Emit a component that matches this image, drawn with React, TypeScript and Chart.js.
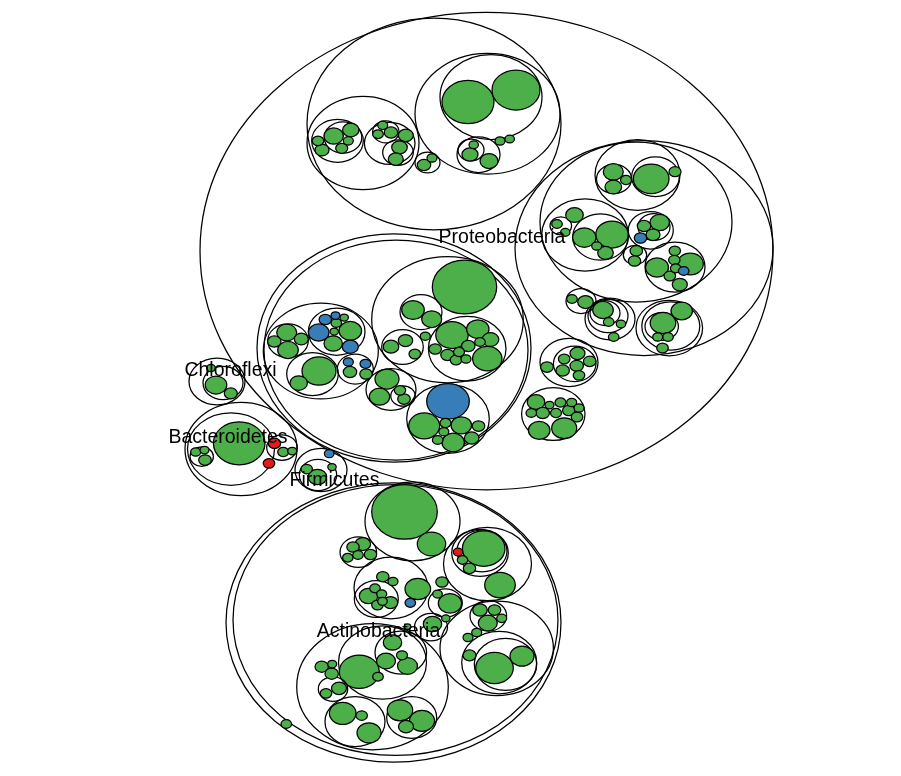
import { useEffect, useRef } from 'react';
import { Chart, registerables } from 'chart.js';

Chart.register(...registerables);

// [x, y, r, kind]  kind: n = group outline, g/b/r = leaf fill
// layout units: y is stretched (x 0..901, y 0..931.2) so circles come out as wide ellipses
type Circle = [number, number, number, string];

const PROTEO_TOP: Circle[] = [
  [486.5, 301.2, 286.5, 'n'],
  [434, 148.8, 127, 'n'],
  [363, 171.6, 56, 'n'],
  [337.5, 169, 25.8, 'n'], [343, 165, 18.8, 'n'],
  [333.7, 163.2, 9.7, 'g'], [350.8, 156, 8.2, 'g'], [348.3, 169, 5, 'g'], [341.7, 178, 6, 'g'],
  [318, 169, 5.8, 'g'], [322, 180, 7, 'g'],
  [389.7, 172, 25.3, 'n'], [385.8, 158.2, 13.2, 'n'],
  [382.7, 150.4, 5, 'g'], [378, 161, 5.3, 'g'], [391, 159, 6.7, 'g'], [405.8, 162.4, 7.5, 'g'],
  [398, 183, 15.3, 'n'], [399.5, 176.8, 7.8, 'g'], [395.8, 191, 7.5, 'g'],
  [427.5, 195, 12.5, 'n'], [424, 198, 6.7, 'g'], [432, 189.6, 5, 'g'],
  [487.5, 136.4, 72.5, 'n'], [491, 116.4, 51, 'n'],
  [468, 122.4, 26, 'g'], [516, 108, 24, 'g'],
  [478.5, 185.6, 21.5, 'n'], [471, 180, 13, 'n'],
  [473.7, 173.6, 4.7, 'g'], [470, 185.4, 8, 'g'], [489, 193.2, 9, 'g'],
  [500, 169.2, 5, 'g'], [509.7, 166.8, 4.7, 'g'],
];

const PROTEO_RIGHT: Circle[] = [
  [644, 297.6, 129, 'n'], [636, 266.4, 96, 'n'],
  [637.5, 210, 42.5, 'n'], [614, 214.8, 17.5, 'n'],
  [613.3, 206.2, 10, 'g'], [613.3, 224.4, 8.3, 'g'], [626, 216, 5.5, 'g'],
  [655.5, 212, 23.8, 'n'], [651.2, 214.6, 17.8, 'g'], [675, 206, 6, 'g'],
  [585, 282, 43.3, 'n'], [560.8, 271, 10.8, 'n'],
  [557, 268.8, 5.3, 'g'], [565.3, 278.8, 4.7, 'g'], [574.5, 258, 8.8, 'g'],
  [600.5, 284.4, 27.8, 'n'],
  [584.3, 285, 11.7, 'g'], [612, 281.4, 16.2, 'g'], [596.7, 295.2, 5, 'g'], [605.5, 303.4, 7.8, 'g'],
  [650.8, 276.4, 22.5, 'n'], [654, 272.4, 16, 'n'],
  [644, 271.2, 6.7, 'g'], [659.7, 267, 9.7, 'g'], [653, 281.6, 7, 'g'], [640.5, 285.6, 6.2, 'b'],
  [635, 306, 11.7, 'n'], [636.3, 301, 6.3, 'g'], [634.5, 313.2, 6.2, 'g'],
  [675, 320.4, 30, 'n'],
  [657, 321, 11.5, 'g'], [674.8, 301, 5.7, 'g'], [674.3, 312, 5.7, 'g'], [690.3, 316.8, 13, 'g'],
  [675.7, 322, 5.3, 'g'], [683.7, 325.2, 5.3, 'b'], [669.8, 331.2, 5.8, 'g'], [679.8, 341.4, 7.5, 'g'],
  [581, 361.2, 15, 'n'], [572, 358.8, 5.3, 'g'], [585.5, 362.4, 7.8, 'g'],
  [610, 382.8, 25, 'n'], [608, 379.2, 20, 'n'], [605, 375.6, 15, 'n'],
  [603, 372, 10.3, 'g'], [608.7, 386.4, 5.3, 'g'], [621, 388.8, 4.7, 'g'], [613.7, 404.4, 5.3, 'g'],
  [669.3, 393.6, 33.3, 'n'], [670.8, 391.2, 29, 'n'], [661.7, 391.8, 16.7, 'n'],
  [663, 387.6, 12.8, 'g'], [657.7, 404.4, 5, 'g'], [668, 404.4, 5.3, 'g'],
  [681.7, 373.2, 10.7, 'g'], [662.5, 417.6, 5.8, 'g'],
];

const PROTEO_MID: Circle[] = [
  [394, 417.6, 137, 'n'], [396, 420, 132, 'n'],
  [320.8, 421.2, 57.5, 'n'],
  [288, 409, 20.3, 'n'],
  [286.7, 399, 10, 'g'], [274.3, 409.8, 6.7, 'g'], [301.3, 406.8, 7, 'g'], [288, 420, 10.3, 'g'],
  [336.7, 398, 28.3, 'n'],
  [318.7, 399, 10.3, 'b'], [325.3, 383.4, 6.2, 'b'], [335.5, 378.6, 4.5, 'b'], [344.2, 381, 4.2, 'g'],
  [336.3, 387.6, 5.3, 'g'], [334.2, 397.8, 4.2, 'g'], [350.3, 397, 11.3, 'g'], [333.2, 412.2, 9.2, 'g'],
  [350.3, 416, 8, 'b'],
  [312.5, 448.8, 25.8, 'n'], [319, 445.2, 17, 'g'], [298.7, 459.6, 8.7, 'g'],
  [355.3, 442.8, 18, 'n'],
  [348.3, 434.4, 5, 'b'], [365.5, 436.6, 5.5, 'b'], [350, 446.4, 6.7, 'g'], [366, 448.8, 6.2, 'g'],
  [447.5, 383.6, 75.8, 'n'], [464.5, 344.4, 32.2, 'g'],
  [421, 374.4, 21, 'n'], [413, 372, 11.3, 'g'], [431.7, 383, 10, 'g'],
  [402.5, 416.4, 20.8, 'n'], [391, 416, 7.8, 'g'], [405.5, 408.6, 7.2, 'g'], [414.8, 424.8, 5.8, 'g'],
  [425.3, 403.4, 5, 'g'],
  [467.2, 418.4, 38.8, 'n'],
  [452, 402, 16.2, 'g'], [477.8, 395, 11.2, 'g'], [490.5, 407.4, 8.3, 'g'], [480, 410.4, 5.3, 'g'],
  [468.3, 415.2, 6.7, 'g'], [435.2, 418.8, 6.2, 'g'], [447.5, 426, 6.7, 'g'], [459, 422.4, 5.5, 'g'],
  [456, 432, 5.8, 'g'], [466, 430.8, 5, 'g'], [487.3, 430.4, 14.7, 'g'],
  [391, 467.4, 25, 'n'], [387, 454.8, 12, 'g'], [379.5, 476, 10.2, 'g'],
  [403, 475.2, 12.2, 'n'], [400, 468.4, 5.7, 'g'], [404, 478.8, 6.3, 'g'],
  [448, 502.6, 41.3, 'n'], [448, 481.6, 21.3, 'b'],
  [424.2, 511, 15.5, 'g'], [445.5, 507.6, 5.5, 'g'], [443.8, 518, 5, 'g'], [461.3, 510.4, 10.3, 'g'],
  [478.5, 511.2, 6.3, 'g'], [437.7, 528, 5.3, 'g'], [453.2, 531, 11.2, 'g'], [471.7, 525.6, 7.3, 'g'],
];

const PROTEO_LOW: Circle[] = [
  [569, 435, 29, 'n'], [547, 440.4, 6.3, 'g'], [574.7, 436.6, 21.3, 'n'],
  [564.2, 430.8, 5.8, 'g'], [577.5, 424, 7.5, 'g'], [589.7, 433.6, 6.3, 'g'], [576.7, 439, 6.7, 'g'],
  [562.7, 444.6, 6.7, 'g'], [579, 450.4, 5.8, 'g'],
  [553.3, 496.8, 31.7, 'n'],
  [536, 482.4, 8.8, 'g'], [549.5, 486, 4.5, 'g'], [560.5, 483, 5.5, 'g'], [571.7, 483, 5, 'g'],
  [579, 489.6, 5, 'g'], [531.3, 495.6, 5.3, 'g'], [542.7, 495.6, 6.7, 'g'], [556, 495.6, 5.5, 'g'],
  [568.8, 492.6, 6.2, 'g'], [577, 500.4, 5.8, 'g'], [539.2, 516.4, 10.8, 'g'], [564.2, 513.8, 12.5, 'g'],
];

const CHLOROFLEXI: Circle[] = [
  [217, 457.8, 28, 'n'], [223, 459.6, 20, 'n'],
  [216, 462, 10.8, 'g'], [230.8, 472, 6.5, 'g'], [211, 441.6, 4.3, 'g'],
];

const BACTEROIDETES: Circle[] = [
  [241, 538.8, 56, 'n'], [231, 538.8, 43.5, 'n'],
  [201.7, 548, 11.7, 'n'], [195.7, 542.4, 5, 'g'], [204.5, 540, 4.5, 'g'], [205, 552, 6.3, 'g'],
  [239.2, 532, 25.8, 'g'], [274.5, 532, 6.2, 'r'],
  [282, 537, 15.3, 'n'], [283.2, 542.4, 5.5, 'g'], [292.2, 541.2, 4.5, 'g'],
  [269, 556, 5.8, 'r'],
];

const FIRMICUTES: Circle[] = [
  [321, 564, 26, 'n'], [329.2, 544.4, 4.8, 'b'], [318, 570, 18.7, 'n'],
  [306.7, 562.8, 5.7, 'g'], [332, 560.4, 4.2, 'g'], [317.5, 572.4, 9.2, 'g'],
];

const ACTINO: Circle[] = [
  [393.5, 747, 167.5, 'n'], [395.5, 744, 162.5, 'n'],
  [286.3, 868.8, 5.3, 'g'],
  [412.5, 625.6, 47.5, 'n'], [404.5, 614.2, 32.8, 'g'], [431.5, 652.8, 14.2, 'g'],
  [358.3, 662.6, 18.3, 'n'],
  [353, 656.4, 6.2, 'g'], [362.8, 652.8, 7.8, 'g'], [347.8, 669.2, 5.2, 'g'], [358, 666, 5.3, 'g'], [370.5, 665.4, 6.2, 'g'],
  [487.5, 676.8, 44, 'n'], [480, 663.4, 28.3, 'n'], [482, 661.2, 25, 'n'],
  [483.7, 658.2, 21.3, 'g'], [458, 662.4, 4.7, 'r'], [462.5, 672, 5.2, 'g'], [469.5, 682, 6.2, 'g'],
  [500, 702, 15.3, 'g'],
  [391, 705.6, 37, 'n'], [376.3, 718.8, 22, 'n'],
  [375, 706, 5.3, 'g'], [368.5, 715.2, 9.2, 'g'], [381.7, 712.8, 5, 'g'], [382.5, 721.6, 4.8, 'g'],
  [377.5, 726, 5.8, 'g'], [390.5, 723, 7.2, 'g'],
  [382.8, 692, 6.2, 'g'], [393, 697.8, 5, 'g'], [417.8, 706.8, 12.8, 'g'], [410.3, 723.4, 5.3, 'b'],
  [442, 698.4, 6.2, 'g'],
  [445.3, 723.6, 17, 'n'], [437.5, 712.8, 4.8, 'g'], [450, 724, 11.7, 'g'], [445.8, 742, 4.2, 'g'],
  [431, 752.4, 16.5, 'n'], [432.5, 748.8, 9.2, 'g'], [407.5, 752, 3.3, 'g'],
  [496.7, 778, 56.7, 'n'], [488.3, 739, 18.3, 'n'],
  [480, 732, 7.3, 'g'], [494.5, 732, 6.3, 'g'], [487.8, 747.6, 9.5, 'g'], [501.7, 742, 5, 'g'],
  [468, 765, 5, 'g'], [476.7, 759, 5, 'g'], [469.5, 786.4, 6.5, 'g'],
  [499.2, 795, 37.5, 'n'], [505.5, 797.2, 31.2, 'n'],
  [494.5, 801.6, 18.8, 'g'], [522, 787.4, 12, 'g'],
  [372.5, 824, 75.8, 'n'], [382.5, 795, 44, 'n'], [359.3, 806, 20, 'g'],
  [400.8, 783, 25.8, 'n'],
  [392.5, 771, 9.2, 'g'], [386, 793.2, 9.5, 'g'], [402, 786.4, 5.5, 'g'], [407.5, 799.2, 10, 'g'],
  [378, 812, 5.3, 'g'],
  [321.7, 800, 6.7, 'g'], [332.2, 796.8, 4.5, 'g'], [331.7, 808.4, 6.7, 'g'],
  [333, 826.8, 14.7, 'n'], [326, 832, 5.8, 'g'], [339, 826, 7.5, 'g'],
  [355, 866, 30, 'n'], [342.7, 856, 13.3, 'g'], [361.7, 858.6, 5.7, 'g'], [369, 879.4, 12, 'g'],
  [411.7, 861, 25, 'n'], [400, 852.4, 12.7, 'g'], [422, 865, 12.5, 'g'], [406, 872, 7.5, 'g'],
];

const GROUPS = [PROTEO_TOP, PROTEO_RIGHT, PROTEO_MID, PROTEO_LOW, CHLOROFLEXI, BACTEROIDETES, FIRMICUTES, ACTINO];

const LABELS = ['Proteobacteria', 'Chloroflexi', 'Bacteroidetes', 'Firmicutes', 'Actinobacteria'];
const LABEL_X = [502, 230.5, 228, 334.5, 378.5];
const LABEL_Y = [285.6, 444.6, 525.6, 577.2, 758.4];

const FILL: Record<string, string> = { g: '#4daf4a', b: '#377eb8', r: '#e41a1c' };

const packPlugin = {
  id: 'pack',
  afterDatasetsDraw(chart: any) {
    const { ctx, scales: { x, y } } = chart;
    const items = chart.data.datasets.flatMap((ds: any) => ds.data).sort((a: any, b: any) => b.r - a.r);
    ctx.save();
    ctx.lineWidth = 1.25;
    ctx.strokeStyle = '#000';
    for (const p of items) {
      const px = x.getPixelForValue(p.x), py = y.getPixelForValue(p.y);
      const rx = Math.abs(x.getPixelForValue(p.x + p.r) - px);
      const ry = Math.abs(y.getPixelForValue(p.y + p.r) - py);
      ctx.beginPath();
      ctx.ellipse(px, py, rx, ry, 0, 0, Math.PI * 2);
      if (FILL[p.k]) { ctx.fillStyle = FILL[p.k]; ctx.fill(); }
      ctx.stroke();
    }
    ctx.font = '19.5px "Liberation Sans", Arial, sans-serif';
    ctx.fillStyle = '#000';
    ctx.textAlign = 'center';
    ctx.textBaseline = 'middle';
    LABELS.forEach((t, i) => ctx.fillText(t, x.getPixelForValue(LABEL_X[i]), y.getPixelForValue(LABEL_Y[i])));
    ctx.restore();
  },
};

export default function App() {
  const ref = useRef<HTMLCanvasElement>(null);

  useEffect(() => {
    if (!ref.current) return;
    const chart = new Chart(ref.current, {
      type: 'scatter',
      data: {
        datasets: GROUPS.map((g, i) => ({
          label: `g${i}`,
          data: g.map(([x, y, r, k]) => ({ x, y, r, k })),
          pointRadius: 0,
          pointHoverRadius: 0,
        })) as any,
      },
      options: {
        responsive: true, maintainAspectRatio: false, animation: false,
        events: [],
        layout: { padding: 0 },
        plugins: { legend: { display: false }, tooltip: { enabled: false } },
        scales: {
          x: { type: 'linear', min: 0, max: 901, display: false },
          y: { type: 'linear', min: 0, max: 931.2, reverse: true, display: false },
        },
      },
      plugins: [packPlugin],
    });
    return () => chart.destroy();
  }, []);

  return (
    <div style={{ position: 'absolute', left: 0, top: 0, width: 901, height: 776, background: '#fff' }}>
      <canvas ref={ref} />
    </div>
  );
}
